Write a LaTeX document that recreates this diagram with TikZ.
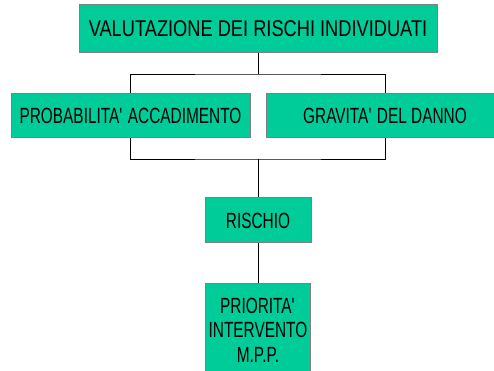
\documentclass[tikz,border=0pt]{standalone}
\usepackage{fontspec}
\usetikzlibrary{positioning}
\newfontfamily\boxfont[FakeStretch=0.70]{Liberation Sans}
\newfontfamily\titlefont[FakeStretch=0.80]{Liberation Sans}
\definecolor{boxgreen}{RGB}{0,204,153}

\begin{document}
\begin{tikzpicture}[x=1pt, y=1pt, node distance=15pt, thick,
box/.style={draw=gray, line width=1pt, fill=boxgreen, inner sep=0pt, align=center,
font=\boxfont\fontsize{22}{24.5}\selectfont}]
\path[use as bounding box, clip] (0,0) rectangle (494,371);
\node[box, minimum width=358pt, minimum height=48pt, font=\titlefont\fontsize{22.8}{26}\selectfont] (valutazione) at (258,342) {VALUTAZIONE DEI RISCHI INDIVIDUATI};
\node[box, minimum width=239pt, minimum height=44pt] (probabilita) at (130.5,255) {PROBABILITA\textquotesingle{} ACCADIMENTO};
\node[box, minimum width=238pt, minimum height=44pt, right=15pt of probabilita] (gravita) {GRAVITA\textquotesingle{} DEL DANNO};
\node[box, minimum width=106pt, minimum height=45pt] (rischio) at (258,150.5) {RISCHIO};
\node[box, minimum width=105pt, minimum height=92pt, below=40pt of rischio] (priorita) {PRIORITA\textquotesingle\\INTERVENTO\\M.P.P.};
\coordinate (split) at (258,297);
\coordinate (merge) at (258,212);
\draw (valutazione) -- (split);
\draw (probabilita) |- (split) -| (gravita);
\draw (probabilita) |- (merge) -| (gravita);
\draw (merge) -- (rischio);
\draw (rischio) -- (priorita);
\end{tikzpicture}
\end{document}
